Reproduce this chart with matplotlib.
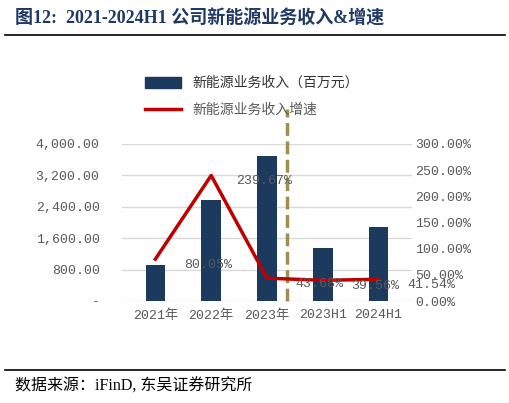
import matplotlib
matplotlib.use("Agg")
import matplotlib.pyplot as plt
from matplotlib.ticker import FuncFormatter
from matplotlib.lines import Line2D
from matplotlib.patches import Patch

cats = ["2021年", "2022年", "2023年", "2023H1", "2024H1"]
revenue = [920, 2577, 3683, 1344, 1896]
growth = [80.05, 239.67, 43.68, 39.56, 41.54]
growth_labels = ["80.05%", "239.67%", "43.68%", "39.56%", "41.54%"]

FAM = ["Liberation Mono", "Noto Sans CJK SC"]
plt.rcParams["font.family"] = FAM
gray = "#595959"
navy = "#1B3A5E"
red = "#C00000"

fig = plt.figure(figsize=(5.10, 4.03), dpi=100)
ax = fig.add_axes([0.239, 0.253, 0.569, 0.390])
ax2 = ax.twinx()
x = list(range(len(cats)))
ax.bar(x, revenue, width=0.35, color=navy, zorder=3)
ax.set_ylim(0, 4000)
ax.set_yticks([0, 800, 1600, 2400, 3200, 4000])
ax.yaxis.set_major_formatter(FuncFormatter(lambda v, p: "-" if v == 0 else f"{v:,.2f}"))
ax.grid(axis="y", color="#D9D9D9", lw=1, zorder=0)
ax.set_xlim(-0.6, 4.6)
ax.set_xticks(x)
ax.set_xticklabels(cats)
for a in (ax, ax2):
    for s in a.spines.values():
        s.set_visible(False)
    a.tick_params(length=0, colors=gray, labelsize=9.5)
ax.tick_params(axis="y", pad=16)
ax.tick_params(axis="x", pad=6)

ax2.plot(x, growth, color=red, lw=2.5, zorder=4)
ax2.set_ylim(0, 300)
ax2.set_yticks([0, 50, 100, 150, 200, 250, 300])
ax2.yaxis.set_major_formatter(FuncFormatter(lambda v, p: f"{v:.2f}%"))
ax2.tick_params(axis="y", pad=2)
for xi, g, lab in zip(x, growth, growth_labels):
    ax2.annotate(lab, (xi, g), xytext=(38, -4), textcoords="offset points",
                 ha="center", va="center", color=gray, fontsize=9.5, zorder=5)

ax.plot([2.35, 2.35], [0, 4900], ls="--", color="#A09050", lw=2.5, clip_on=False, zorder=6)

fig.legend(handles=[Patch(color=navy)], labels=["新能源业务收入（百万元）"],
           loc="center left", bbox_to_anchor=(0.26, 0.794), frameon=False,
           handlelength=2.6, handleheight=0.8, fontsize=10, labelcolor="#333333")
fig.legend(handles=[Line2D([], [], color=red, lw=2.5)], labels=["新能源业务收入增速"],
           loc="center left", bbox_to_anchor=(0.26, 0.727), frameon=False,
           handlelength=2.6, fontsize=10, labelcolor=gray)

fig.text(0.03, 0.955, "图12:  2021-2024H1 公司新能源业务收入&增速", color="#1F3864",
         fontsize=13, fontweight="bold", va="center", family=["Liberation Serif", "Noto Sans CJK SC"])
fig.add_artist(Line2D([0.01, 0.99], [0.913, 0.913], color="black", lw=1.2))
fig.add_artist(Line2D([0.01, 0.99], [0.082, 0.082], color="black", lw=1.2))
fig.text(0.03, 0.04, "数据来源：iFinD, 东吴证券研究所", fontsize=11.5, va="center", color="black",
         family=["Liberation Serif", "Noto Sans CJK SC"])
fig.savefig("out.png", dpi=100)
